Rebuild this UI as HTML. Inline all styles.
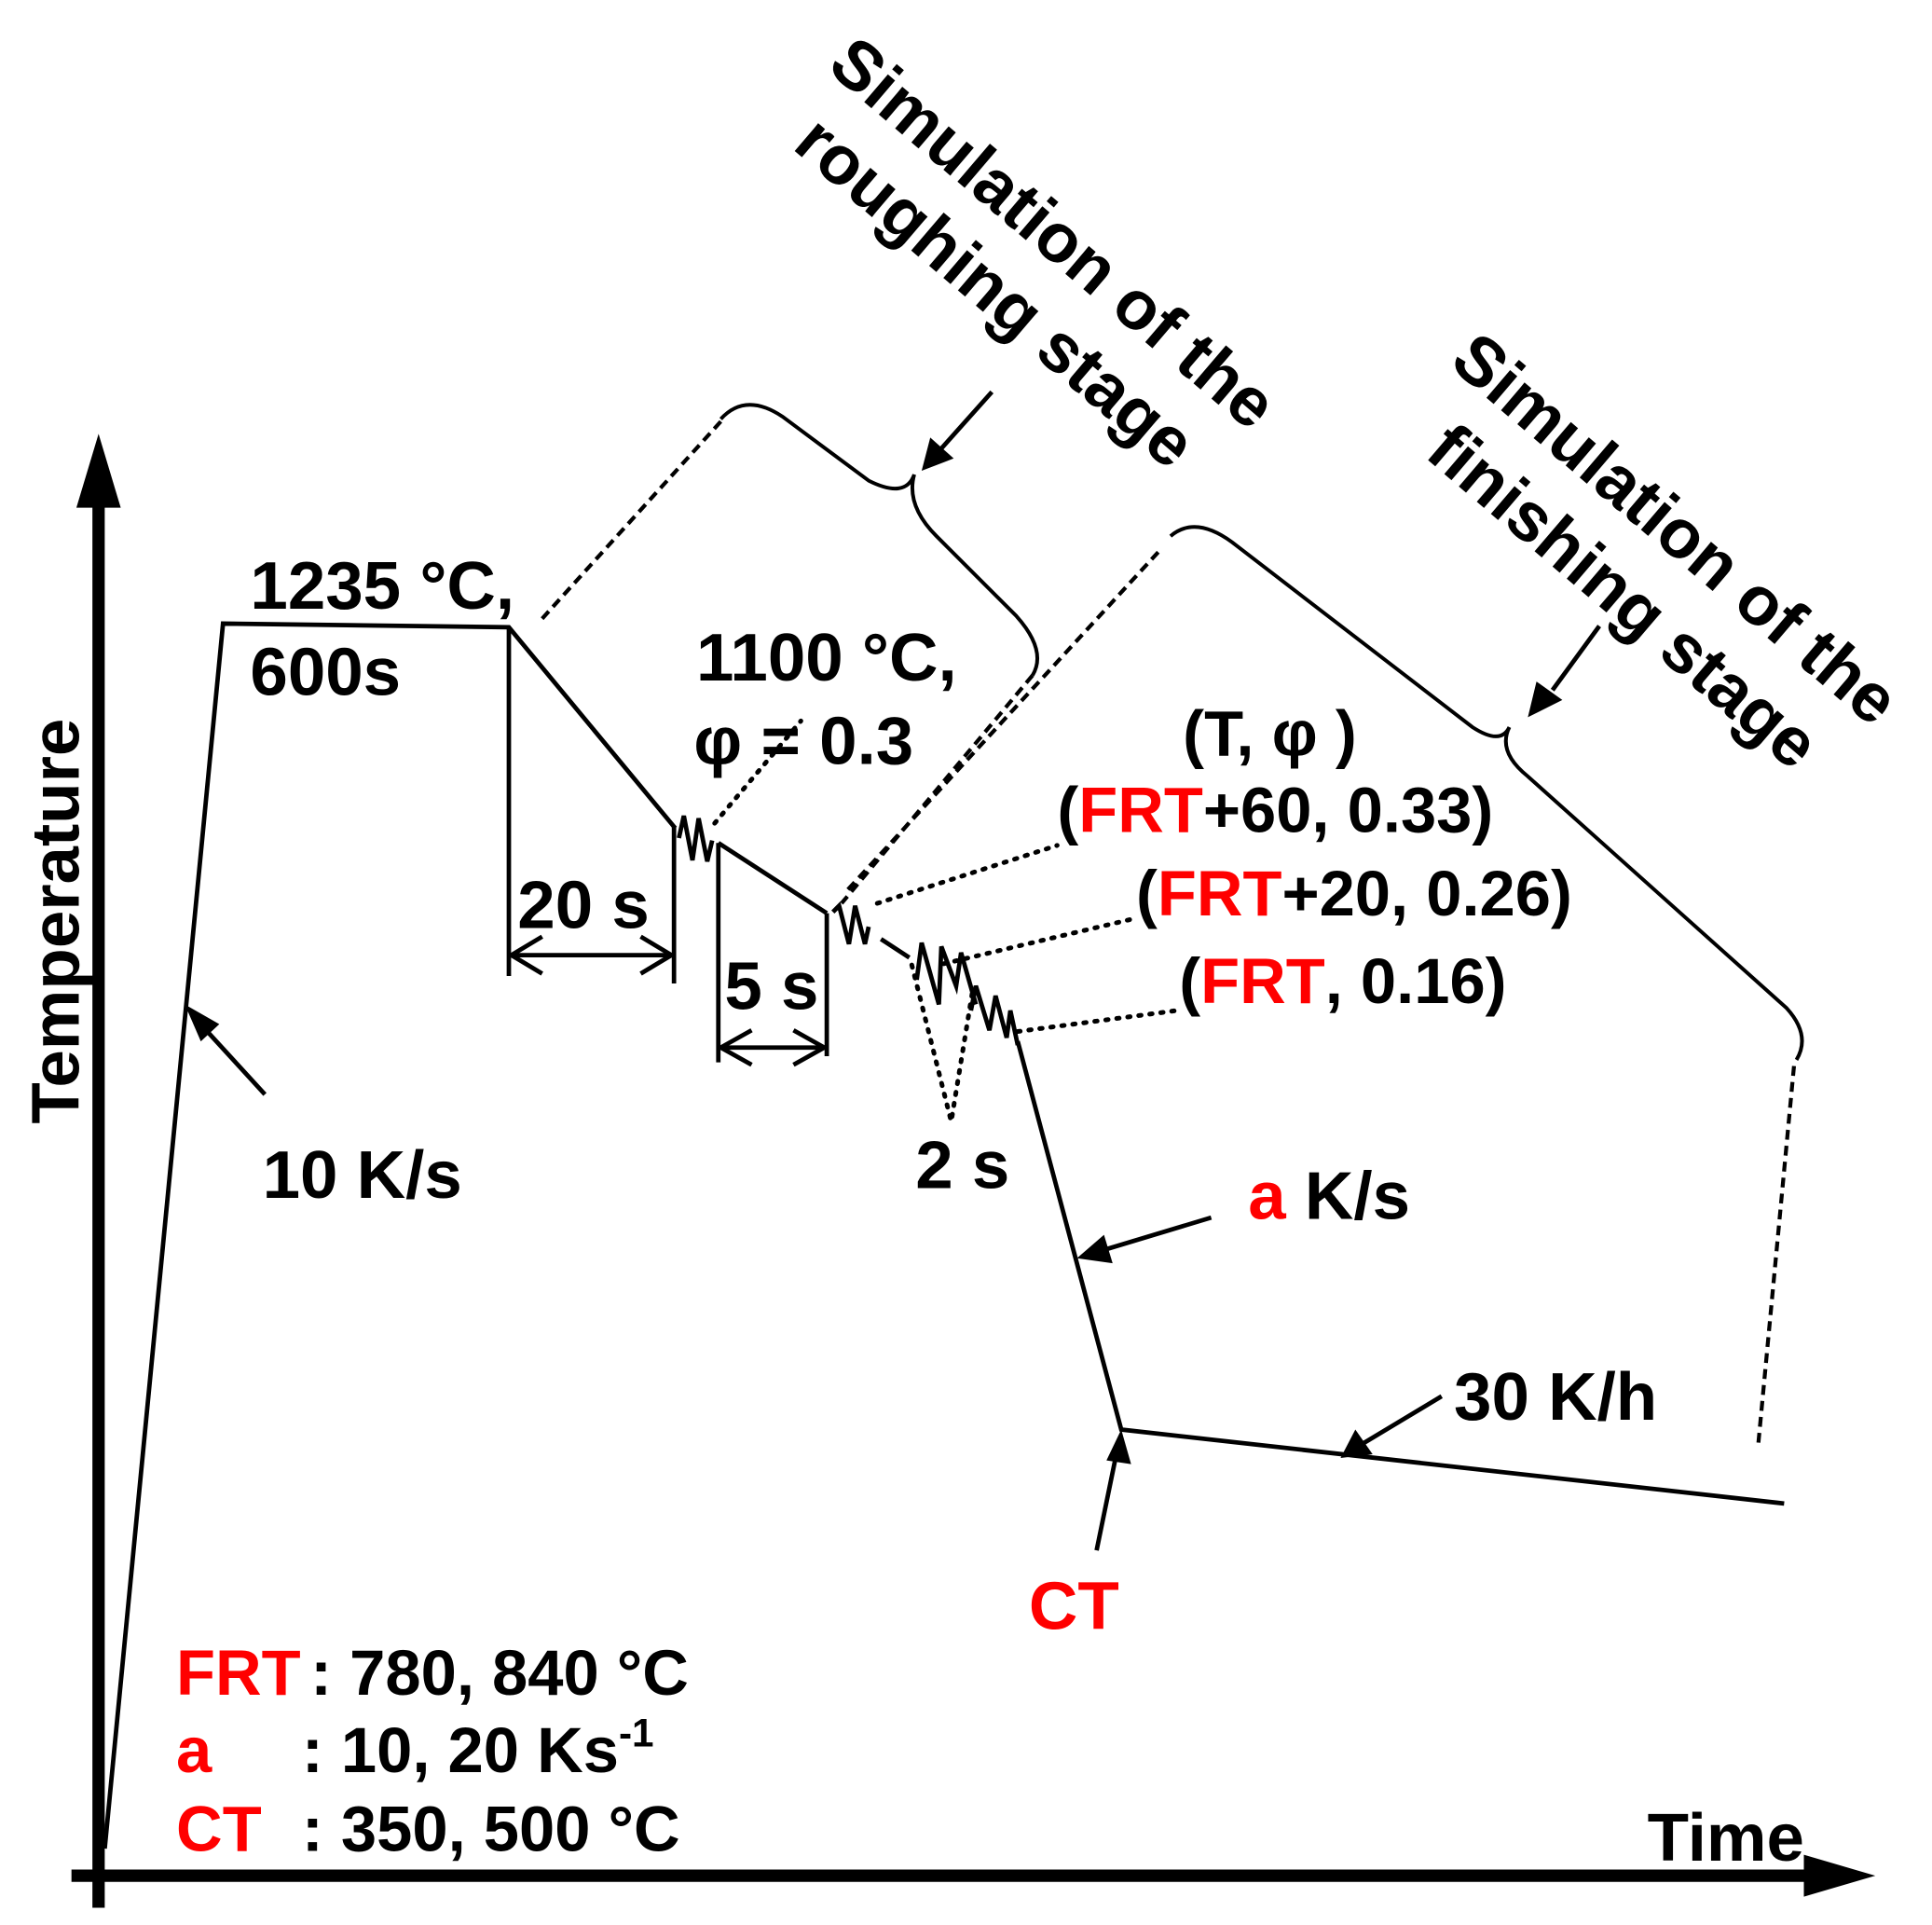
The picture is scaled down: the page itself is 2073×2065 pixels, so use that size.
<!DOCTYPE html>
<html><head><meta charset="utf-8"><style>
html,body{margin:0;padding:0;background:#fff;}
svg{display:block;}
text{font-family:"Liberation Sans",Arial,sans-serif;font-weight:bold;fill:#000;}
.r{fill:#f00;}
</style></head><body>
<svg width="2073" height="2065" viewBox="0 0 1568 1562" preserveAspectRatio="none" xmlns="http://www.w3.org/2000/svg">
<g stroke="#000" fill="none" stroke-linecap="butt">
<line x1="80" y1="1548" x2="80" y2="400" stroke-width="10"/>
<line x1="58" y1="1522" x2="1470" y2="1522" stroke-width="10"/>
</g>
<polygon points="80,352 62,412 98,412" fill="#000"/>
<polygon points="1522,1522 1464,1505 1464,1539" fill="#000"/>
<g stroke="#000" fill="none" stroke-width="3.6">
<polyline points="85,1500 181,506 413,509 548,672"/>
<line x1="413" y1="509" x2="413" y2="792"/>
<line x1="547" y1="670" x2="547" y2="798"/>
<line x1="415" y1="775" x2="545" y2="775"/>
<polyline points="440,760 415,775 440,790"/>
<polyline points="520,760 545,775 520,790"/>
<polyline points="551,680 555,662 562,698 567,664 574,699 578,682"/>
<line x1="583" y1="684" x2="671" y2="741"/>
<line x1="583" y1="684" x2="583" y2="862"/>
<line x1="671" y1="741" x2="671" y2="857"/>
<line x1="585" y1="850" x2="669" y2="850"/>
<polyline points="610,836 585,850 610,864"/>
<polyline points="644,836 669,850 644,864"/>
<polyline points="676,740 681,735 689,766 694,735 702,766 705,752"/>
<line x1="715" y1="762" x2="738" y2="777"/>
<polyline points="744,795 748,765 762,815 764,768 776,800 780,773 792,815"/>
<polyline points="788,820 792,800 803,836 808,808 817,842 820,820 826,848"/>
<polyline points="826,845 910,1160 1448,1220"/>
<line x1="215" y1="888" x2="160" y2="828"/>
<line x1="983" y1="988" x2="890" y2="1016"/>
<line x1="890" y1="1258" x2="906" y2="1180"/>
<line x1="1170" y1="1133" x2="1105" y2="1172"/>
<line x1="805" y1="318" x2="763" y2="365"/>
<line x1="1298" y1="508" x2="1260" y2="560"/>
</g>
<g stroke="#000" fill="none" stroke-width="3">
<path d="M585,340 Q605,318 635,338 L705,390 Q735,405 742,385 Q735,410 760,435 L825,500 Q850,528 838,548"/>
<path d="M950,435 Q970,418 1000,440 L1195,590 Q1218,605 1225,590 Q1215,610 1240,630 L1450,818 Q1470,840 1458,860"/>
</g>
<g fill="#000">
<polygon points="150,815 178,831 163,845"/>
<polygon points="874,1021 896,1002 903,1025"/>
<polygon points="910,1160 898,1185 918,1188"/>
<polygon points="1088,1183 1100,1160 1114,1180"/>
<polygon points="748,382 755,355 774,372"/>
<polygon points="1240,582 1247,553 1268,568"/>
</g>
<g stroke="#000" fill="none" stroke-width="3.2" stroke-dasharray="8,5">
<line x1="440" y1="502" x2="585" y2="342"/>
<line x1="838" y1="548" x2="683" y2="733"/>
<line x1="940" y1="448" x2="688" y2="722"/>
<line x1="1456" y1="865" x2="1427" y2="1172"/>
</g>
<g stroke="#000" fill="none" stroke-width="3.8" stroke-dasharray="2,7" stroke-linecap="round">
<line x1="580" y1="668" x2="650" y2="585"/>
<line x1="712" y1="733" x2="858" y2="686"/>
<line x1="766" y1="782" x2="922" y2="745"/>
<line x1="826" y1="837" x2="955" y2="820"/>
<polyline points="740,783 772,910 790,800"/>
</g>
<text x="203" y="494" font-size="55">1235 °C,</text>
<text x="203" y="564" font-size="55">600s</text>
<text x="565" y="552" font-size="55">1100 °C,</text>
<text x="563" y="620" font-size="55">φ = 0.3</text>
<text x="420" y="753" font-size="55">20 s</text>
<text x="588" y="819" font-size="55">5 s</text>
<text x="743" y="964" font-size="55">2 s</text>
<text x="960" y="613" font-size="52">(T, φ )</text>
<text x="858" y="675" font-size="52">(<tspan class="r">FRT</tspan>+60, 0.33)</text>
<text x="922" y="743" font-size="52">(<tspan class="r">FRT</tspan>+20, 0.26)</text>
<text x="957" y="814" font-size="52">(<tspan class="r">FRT</tspan>, 0.16)</text>
<text x="213" y="972" font-size="55">10 K/s</text>
<text x="1013" y="989" font-size="55"><tspan class="r">a</tspan> K/s</text>
<text x="1180" y="1152" font-size="55">30 K/h</text>
<text x="835" y="1322" font-size="55" class="r">CT</text>
<text x="143" y="1375" font-size="52" class="r">FRT</text>
<text x="252" y="1375" font-size="52">: 780, 840 °C</text>
<text x="143" y="1438" font-size="52" class="r">a</text>
<text x="245" y="1438" font-size="52">: 10, 20 Ks<tspan font-size="32" dy="-21">-1</tspan></text>
<text x="143" y="1502" font-size="52" class="r">CT</text>
<text x="245" y="1502" font-size="52">: 350, 500 °C</text>
<text x="1337" y="1510" font-size="55">Time</text>
<text x="0" y="0" font-size="55" transform="translate(64,912) rotate(-90)">Temperature</text>
<text x="0" y="0" font-size="56" transform="translate(670,56) rotate(40.5)">Simulation of the</text>
<text x="0" y="0" font-size="56" transform="translate(642,120) rotate(40.5)">roughing stage</text>
<text x="0" y="0" font-size="56" transform="translate(1175,296) rotate(40.5)">Simulation of the</text>
<text x="0" y="0" font-size="56" transform="translate(1155,370) rotate(40.5)">finishing stage</text>
</svg>
</body></html>
